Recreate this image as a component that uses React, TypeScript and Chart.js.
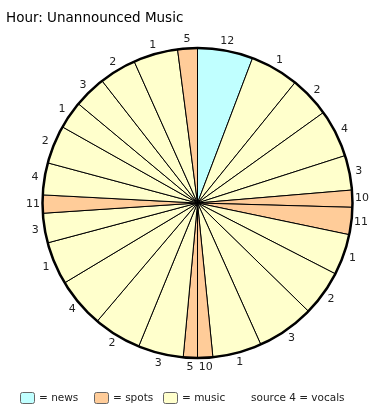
import React, { useEffect, useRef } from "react";
import { Chart, registerables } from "chart.js";

Chart.register(...registerables);

// durations of each segment of the hour, in seconds (clockwise from 12 o'clock)
const durations = [208, 182, 153, 179, 130, 64, 102, 154, 171, 216, 184, 57, 53, 170, 180, 187, 161, 111, 68, 120, 144, 104, 122, 139, 167, 74];
// source number printed beside each segment
const sources = ["12", "1", "2", "4", "3", "10", "11", "1", "2", "3", "1", "10", "5", "3", "2", "4", "1", "3", "11", "4", "2", "1", "3", "2", "1", "5"];
// kind of each segment
const kinds = ["news", "music", "music", "music", "music", "spots", "spots", "music", "music", "music", "music", "spots", "spots", "music", "music", "music", "music", "music", "spots", "music", "music", "music", "music", "music", "music", "spots"];

const legendItems = ["news", "spots", "music"];
const kindColors: Record<string, string> = { news: "#C0FFFF", spots: "#FFCC99", music: "#FFFFCC" };
const titleText = "Hour: Unannounced Music";
const noteText = "source 4 = vocals";

const FONT = '"DejaVu Sans", Verdana, sans-serif';

const overlay = {
  id: "overlay",
  afterDatasetsDraw(chart: any) {
    const ctx = chart.ctx as CanvasRenderingContext2D;
    const meta = chart.getDatasetMeta(0);
    const a0 = meta.data[0].getProps(["x", "y", "outerRadius"], true);
    const cx = a0.x, cy = a0.y, R = a0.outerRadius;
    ctx.save();
    ctx.beginPath();
    ctx.arc(cx, cy, R, 0, Math.PI * 2);
    ctx.lineWidth = 2.5;
    ctx.strokeStyle = "#000";
    ctx.stroke();

    ctx.fillStyle = "#222";
    ctx.font = `11px ${FONT}`;
    ctx.textAlign = "center";
    ctx.textBaseline = "middle";
    meta.data.forEach((arc: any, i: number) => {
      const p = arc.getProps(["startAngle", "endAngle"], true);
      const mid = (p.startAngle + p.endAngle) / 2;
      const r = R + 9.5;
      ctx.fillText(sources[i], cx + Math.cos(mid) * r, cy + Math.sin(mid) * r);
    });

    // title
    ctx.fillStyle = "#000";
    ctx.font = `13.5px ${FONT}`;
    ctx.textAlign = "left";
    ctx.textBaseline = "alphabetic";
    ctx.fillText(titleText, 6, 22);

    // legend
    ctx.font = `10.5px ${FONT}`;
    ctx.textBaseline = "middle";
    const boxX = [20, 94, 163];
    legendItems.forEach((k, i) => {
      const x = boxX[i];
      ctx.beginPath();
      ctx.roundRect(x + 0.5, 392.5, 14, 11, 2);
      ctx.fillStyle = kindColors[k];
      ctx.fill();
      ctx.lineWidth = 1;
      ctx.strokeStyle = "#666";
      ctx.stroke();
      ctx.fillStyle = "#222";
      ctx.fillText("= " + k, x + 19, 398.5);
    });
    ctx.fillText(noteText, 251, 398.5);
    ctx.restore();
  },
};

export default function App() {
  const ref = useRef<HTMLCanvasElement>(null);
  useEffect(() => {
    if (!ref.current) return;
    const chart = new Chart(ref.current, {
      type: "pie",
      data: {
        labels: sources,
        datasets: [
          {
            data: durations,
            backgroundColor: kinds.map((k) => kindColors[k]),
            borderColor: "#000",
            borderWidth: 1,
            radius: 155,
          } as any,
        ],
      },
      options: {
        responsive: false,
        animation: false,
        layout: { padding: { left: 14, right: 0, top: 0, bottom: 13 } },
        plugins: { legend: { display: false }, tooltip: { enabled: false }, title: { display: false } },
        events: [],
      },
      plugins: [overlay],
    });
    return () => chart.destroy();
  }, []);
  return (
    <div style={{ position: "fixed", left: 0, top: 0, width: 381, height: 419, background: "#fff" }}>
      <canvas ref={ref} width={381} height={419} />
    </div>
  );
}
